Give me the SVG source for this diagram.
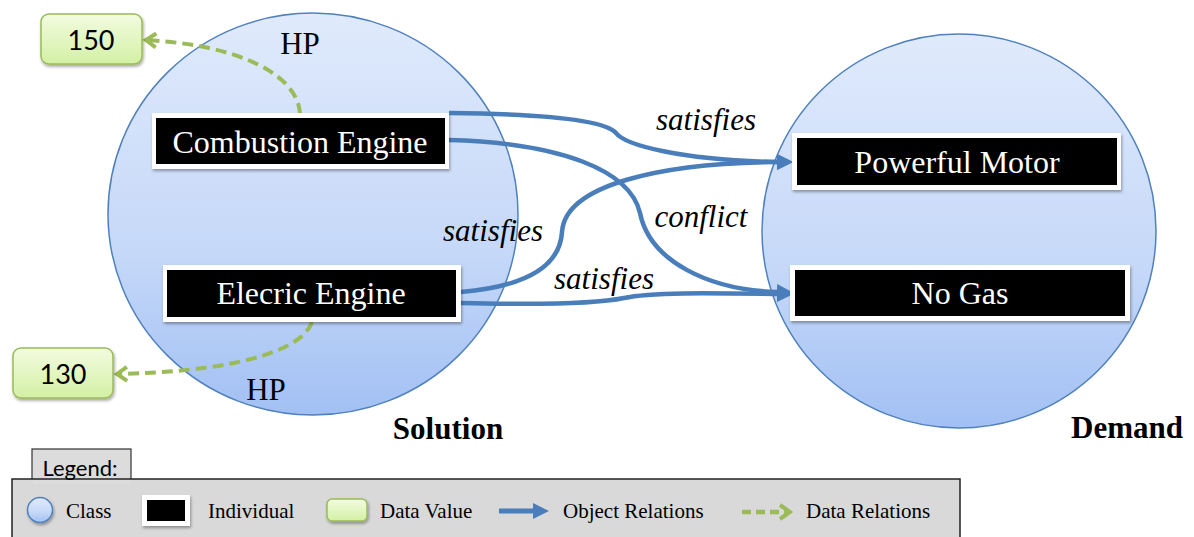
<svg xmlns="http://www.w3.org/2000/svg" width="1194" height="537" viewBox="0 0 1194 537">
  <defs>
    <linearGradient id="classFill" x1="0" y1="0" x2="0" y2="1">
      <stop offset="0" stop-color="#e0eafc"/>
      <stop offset="0.6" stop-color="#c5d8f8"/>
      <stop offset="1" stop-color="#a2c0f4"/>
    </linearGradient>
    <linearGradient id="valueFill" x1="0" y1="0" x2="0" y2="1">
      <stop offset="0" stop-color="#f2fce0"/>
      <stop offset="1" stop-color="#d3f0a4"/>
    </linearGradient>
    <filter id="shadow" x="-20%" y="-30%" width="140%" height="170%">
      <feDropShadow dx="1" dy="2" stdDeviation="1.5" flood-color="#000" flood-opacity="0.35"/>
    </filter>
    <marker id="objArrow" markerUnits="userSpaceOnUse" viewBox="0 0 16 16" refX="0" refY="8" markerWidth="16" markerHeight="16" orient="auto">
      <path d="M0,0 L16,8 L0,16 z" fill="#4a7ebb"/>
    </marker>
    <marker id="dataArrow" markerUnits="userSpaceOnUse" viewBox="-2 -2 16 18" refX="11" refY="7" markerWidth="16" markerHeight="18" orient="auto">
      <path d="M1,0 L11,7 L1,14" fill="none" stroke="#9bbb59" stroke-width="4" stroke-linejoin="miter"/>
    </marker>
    <style>
      .cls { fill: url(#classFill); stroke: #4f81bd; stroke-width: 1.5; }
      .indOuter { fill: #ffffff; filter: url(#shadow); }
      .indInner { fill: #000000; }
      .indText { font-family: "Liberation Serif", "Times New Roman", serif; font-size: 32px; fill: #ffffff; text-anchor: middle; }
      .val { fill: url(#valueFill); stroke: #9bbb59; stroke-width: 1.5; filter: url(#shadow); }
      .valText { font-family: Lato, "Open Sans", sans-serif; font-size: 27px; fill: #000; text-anchor: middle; }
      .obj { fill: none; stroke: #4a7ebb; stroke-width: 4.5; marker-end: url(#objArrow); }
      .data { fill: none; stroke: #9bbb59; stroke-width: 4; stroke-dasharray: 11 6; marker-end: url(#dataArrow); }
      .rel { font-family: "Liberation Serif", "Times New Roman", serif; font-size: 31px; font-style: italic; fill: #000; text-anchor: middle; }
      .prop { font-family: "Liberation Serif", "Times New Roman", serif; font-size: 31px; fill: #000; text-anchor: middle; }
      .title { font-family: "Liberation Serif", "Times New Roman", serif; font-size: 31px; font-weight: bold; fill: #000; text-anchor: middle; }
      .legText { font-family: "Liberation Serif", "Times New Roman", serif; font-size: 21px; fill: #000; }
    </style>
  </defs>

  <!-- classes -->
  <g id="solution">
    <ellipse class="cls" cx="313" cy="214" rx="205" ry="201"/>
    <text class="title" x="448" y="439">Solution</text>
  </g>
  <g id="demand">
    <circle class="cls" cx="959" cy="231" r="197"/>
    <text class="title" x="1127" y="438">Demand</text>
  </g>

  <!-- connectors -->
  <g id="connectors">
    <path class="data" d="M300,114 C298,75 240,45 146,40"/>
    <path class="data" d="M312,322 C300,355 220,372 117,374"/>
    <path class="obj" d="M449,113 C540,114 605,120 616,133 C625,145 680,160 777,162"/>
    <path class="obj" d="M449,140 C560,143 630,170 640,213 C650,262 710,290 777,292"/>
    <path class="obj" d="M461,292 C530,286 560,265 562,232 C565,185 660,163 777,162"/>
    <path class="obj" d="M461,303 C540,305 600,303 624,298 C650,292 710,293 777,294"/>
    <text class="prop" x="300" y="54">HP</text>
    <text class="prop" x="266" y="400">HP</text>
    <text class="rel" x="706" y="130">satisfies</text>
    <text class="rel" x="701" y="227">conflict</text>
    <text class="rel" x="493" y="241">satisfies</text>
    <text class="rel" x="604" y="289">satisfies</text>
  </g>

  <!-- individuals -->
  <g id="combustion-engine">
    <rect class="indOuter" x="152" y="113" width="297" height="56"/>
    <rect class="indInner" x="156" y="118" width="289" height="46"/>
    <text class="indText" x="300" y="153">Combustion Engine</text>
  </g>
  <g id="electric-engine">
    <rect class="indOuter" x="163" y="265" width="298" height="57"/>
    <rect class="indInner" x="167" y="270" width="289" height="47"/>
    <text class="indText" x="311" y="304">Elecric Engine</text>
  </g>
  <g id="powerful-motor">
    <rect class="indOuter" x="792" y="133" width="329" height="57"/>
    <rect class="indInner" x="797" y="138" width="320" height="47"/>
    <text class="indText" x="957" y="173">Powerful Motor</text>
  </g>
  <g id="no-gas">
    <rect class="indOuter" x="790" y="265" width="340" height="56"/>
    <rect class="indInner" x="795" y="270" width="330" height="46"/>
    <text class="indText" x="960" y="304">No Gas</text>
  </g>

  <!-- data values -->
  <g id="value-150">
    <rect class="val" x="41" y="14" width="101" height="50" rx="8"/>
    <text class="valText" x="91" y="50">150</text>
  </g>
  <g id="value-130">
    <rect class="val" x="13" y="348" width="100" height="50" rx="8"/>
    <text class="valText" x="63" y="384">130</text>
  </g>

  <!-- legend -->
  <g id="legend">
    <rect x="32" y="449" width="99" height="34" fill="#dcdcdc" stroke="#333" stroke-width="1.2"/>
    <rect x="12" y="479" width="948" height="70" fill="#d9d9d9" stroke="#222" stroke-width="1.5"/>
    <rect x="33" y="480" width="97" height="4" fill="#dcdcdc"/>
    <text x="80" y="476" font-family="Lato, 'Open Sans', sans-serif" font-size="22" text-anchor="middle" fill="#000">Legend:</text>

    <circle cx="40" cy="510" r="12.5" fill="url(#classFill)" stroke="#4f81bd" stroke-width="1.5" filter="url(#shadow)"/>
    <text class="legText" x="66" y="518">Class</text>

    <rect x="142" y="495" width="48" height="31" fill="#fff" filter="url(#shadow)"/>
    <rect x="147" y="500" width="38" height="21" fill="#000"/>
    <text class="legText" x="208" y="518">Individual</text>

    <rect x="327" y="499" width="40" height="22" rx="5" fill="url(#valueFill)" stroke="#9bbb59" stroke-width="1.5" filter="url(#shadow)"/>
    <text class="legText" x="380" y="518">Data Value</text>

    <line x1="499" y1="511" x2="533" y2="511" stroke="#4a7ebb" stroke-width="5" marker-end="url(#objArrow)"/>
    <text class="legText" x="563" y="518">Object Relations</text>

    <line x1="742" y1="512" x2="790" y2="512" stroke="#9bbb59" stroke-width="4.5" stroke-dasharray="9 5" marker-end="url(#dataArrow)"/>
    <text class="legText" x="806" y="518">Data Relations</text>
  </g>
</svg>
